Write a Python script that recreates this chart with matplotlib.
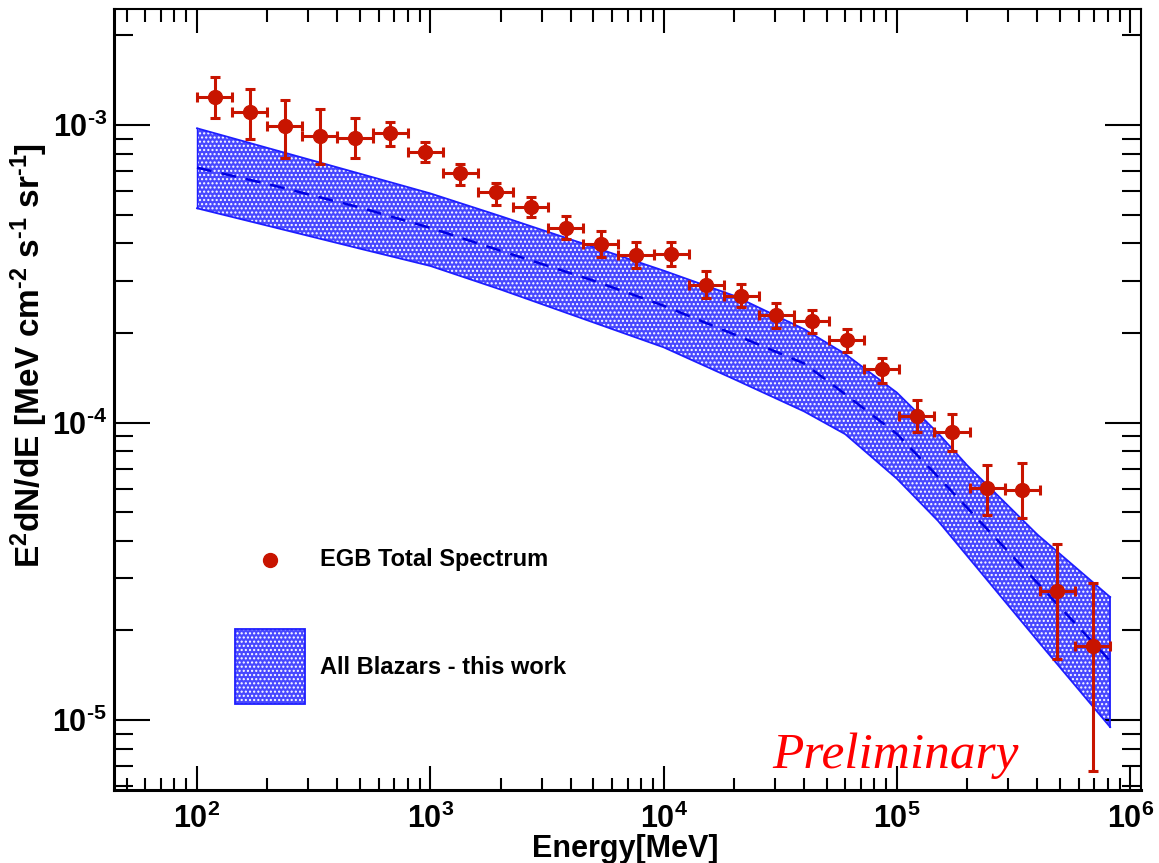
import math
import matplotlib
matplotlib.use("Agg")
import matplotlib.pyplot as plt
from matplotlib.patches import Rectangle
from matplotlib.ticker import LogLocator, FuncFormatter, NullFormatter

plt.rcParams['font.family'] = ['Liberation Sans', 'DejaVu Sans']
plt.rcParams['mathtext.fontset'] = 'custom'
plt.rcParams['mathtext.rm'] = 'Liberation Sans'
plt.rcParams['mathtext.bf'] = 'Liberation Sans:bold'
plt.rcParams['mathtext.it'] = 'Liberation Sans:italic'

# EGB data points (MeV, MeV cm-2 s-1 sr-1)
bin_edges = [100, 141.4, 200, 282.8, 400, 565.7, 800, 1131, 1600, 2263, 3200, 4525,
             6400, 9051, 12800, 18102, 25600, 36204, 51200, 72408, 102400, 144815,
             204800, 289631, 409600, 579262, 819200]
energy = [118.9, 168.2, 237.9, 336.4, 475.8, 672.9, 951.7, 1346, 1903, 2692, 3806,
          5383, 7613, 10766, 15226, 21533, 30454, 43070, 60912, 86145, 121830,
          172300, 243680, 344620, 487380, 689280]
flux = [1.245e-3, 1.108e-3, 0.995e-3, 0.918e-3, 0.906e-3, 0.938e-3, 0.813e-3,
        0.688e-3, 0.594e-3, 0.529e-3, 0.452e-3, 0.397e-3, 0.365e-3, 0.369e-3,
        0.290e-3, 0.266e-3, 0.230e-3, 0.220e-3, 0.190e-3, 0.151e-3, 1.054e-4,
        0.927e-4, 6.01e-5, 5.93e-5, 2.71e-5, 1.78e-5]
flux_hi = [1.446e-3, 1.321e-3, 1.213e-3, 1.129e-3, 1.053e-3, 1.023e-3, 0.879e-3,
           0.739e-3, 0.640e-3, 0.571e-3, 0.496e-3, 0.441e-3, 0.405e-3, 0.405e-3,
           0.323e-3, 0.292e-3, 0.253e-3, 0.239e-3, 0.207e-3, 0.165e-3, 1.190e-4,
           1.065e-4, 7.20e-5, 7.32e-5, 3.90e-5, 2.89e-5]
flux_lo = [1.053e-3, 0.897e-3, 0.776e-3, 0.738e-3, 0.776e-3, 0.850e-3, 0.753e-3,
           0.629e-3, 0.538e-3, 0.489e-3, 0.414e-3, 0.359e-3, 0.331e-3, 0.336e-3,
           0.263e-3, 0.244e-3, 0.208e-3, 0.200e-3, 0.173e-3, 0.136e-3, 0.927e-4,
           0.804e-4, 4.89e-5, 4.79e-5, 1.61e-5, 6.75e-6]

# blazar model band
band_e = [100, 200, 500, 1e3, 2e3, 5e3, 1e4, 2e4, 4e4, 6e4, 1e5, 1.5e5, 2e5, 4e5, 8.2e5]
band_hi = [9.75e-4, 8.38e-4, 6.86e-4, 5.89e-4, 4.94e-4, 3.89e-4, 3.24e-4, 2.67e-4,
           2.06e-4, 1.70e-4, 1.26e-4, 9.21e-5, 7.18e-5, 4.20e-5, 2.59e-5]
band_mid = [7.19e-4, 6.34e-4, 5.28e-4, 4.51e-4, 3.78e-4, 3.00e-4, 2.47e-4, 1.98e-4,
            1.58e-4, 1.245e-4, 9.15e-5, 6.57e-5, 5.17e-5, 2.89e-5, 1.58e-5]
band_lo = [5.25e-4, 4.59e-4, 3.84e-4, 3.36e-4, 2.80e-4, 2.17e-4, 1.79e-4, 1.40e-4,
           1.09e-4, 9.14e-5, 6.47e-5, 4.67e-5, 3.56e-5, 1.85e-5, 9.47e-6]

red = '#c81400'
blue = '#1e1eff'
band_fc = '#4848ff'
hy = '\u2010'  # short hyphen for exponents

fig = plt.figure(figsize=(11.59, 8.63), dpi=100)
ax = fig.add_axes([0.0984, 0.0846, 0.8861, 0.9050])

ax.fill_between(band_e, band_lo, band_hi, facecolor=band_fc, edgecolor='white',
                hatch='....', linewidth=0, zorder=1)
ax.plot(band_e, band_hi, color=blue, lw=1.3, zorder=2)
ax.plot(band_e, band_lo, color=blue, lw=1.3, zorder=2)
ax.plot([band_e[0]] * 2, [band_lo[0], band_hi[0]], color=blue, lw=1.0, zorder=2)
ax.plot([band_e[-1]] * 2, [band_lo[-1], band_hi[-1]], color=blue, lw=1.3, zorder=2)
ax.plot(band_e, band_mid, color='#0000e0', lw=1.8, ls=(0, (6, 4)), zorder=2)

xerr = [[e - lo for e, lo in zip(energy, bin_edges[:-1])],
        [hi - e for e, hi in zip(energy, bin_edges[1:])]]
yerr = [[f - lo for f, lo in zip(flux, flux_lo)],
        [hi - f for f, hi in zip(flux, flux_hi)]]
ax.errorbar(energy, flux, xerr=xerr, yerr=yerr, fmt='o', color=red, ms=10,
            elinewidth=2.2, capsize=3.5, capthick=2.2, zorder=3)

ax.set_xscale('log')
ax.set_yscale('log')
ax.set_xlim(44.1, 1.112e6)
ax.set_ylim(5.82e-6, 2.455e-3)


def decade(v, pos):
    n = round(math.log10(v))
    return r'$\mathbf{10^{%s}}$' % str(n).replace('-', hy)


for axis in (ax.xaxis, ax.yaxis):
    axis.set_major_locator(LogLocator(base=10))
    axis.set_minor_locator(LogLocator(base=10, subs=range(2, 10)))
    axis.set_major_formatter(FuncFormatter(decade))
    axis.set_minor_formatter(NullFormatter())

ax.tick_params(which='both', direction='in', top=True, right=True, labelsize=22)
ax.tick_params(axis='y', which='major', length=26, width=1.5, pad=5)
ax.tick_params(axis='y', which='minor', length=14, width=1.5)
ax.tick_params(axis='x', which='major', length=17, width=1.5, pad=10)
ax.tick_params(axis='x', which='minor', length=9, width=1.5)
for side in ('left', 'bottom'):
    ax.spines[side].set_linewidth(2.2)
for side in ('top', 'right'):
    ax.spines[side].set_linewidth(1.5)

ax.text(0.4976, -0.086, 'Energy[MeV]', transform=ax.transAxes, ha='center',
        va='baseline', fontsize=22, fontweight='bold')
ylab = r'$\mathbf{E^{2}dN/dE\ [MeV\ cm^{%s2}\ s^{%s1}\ sr^{%s1}]}$' % (hy, hy, hy)
ax.text(-0.083, 0.557, ylab, transform=ax.transAxes, rotation=90, ha='center',
        va='center', fontsize=24)

# legend
ax.plot([0.1519], [0.2945], 'o', color=red, ms=10, transform=ax.transAxes)
ax.text(0.2006, 0.2945, 'EGB Total Spectrum', transform=ax.transAxes, ha='left',
        va='center', fontsize=17, fontweight='bold')
ax.add_patch(Rectangle((0.1178, 0.1101), 0.0682, 0.096, transform=ax.transAxes,
                       facecolor=band_fc, edgecolor='white', hatch='....', lw=0))
ax.add_patch(Rectangle((0.1178, 0.1101), 0.0682, 0.096, transform=ax.transAxes,
                       facecolor='none', edgecolor=blue, lw=1.3))
ax.text(0.2006, 0.1562, 'All Blazars - this work', transform=ax.transAxes, ha='left',
        va='center', fontsize=17, fontweight='bold')

ax.text(0.6407, 0.0282, 'Preliminary', transform=ax.transAxes, ha='left',
        va='baseline', fontsize=37, color='red', style='italic',
        family=['Liberation Serif', 'DejaVu Serif'])

fig.savefig('out.png', dpi=100)
